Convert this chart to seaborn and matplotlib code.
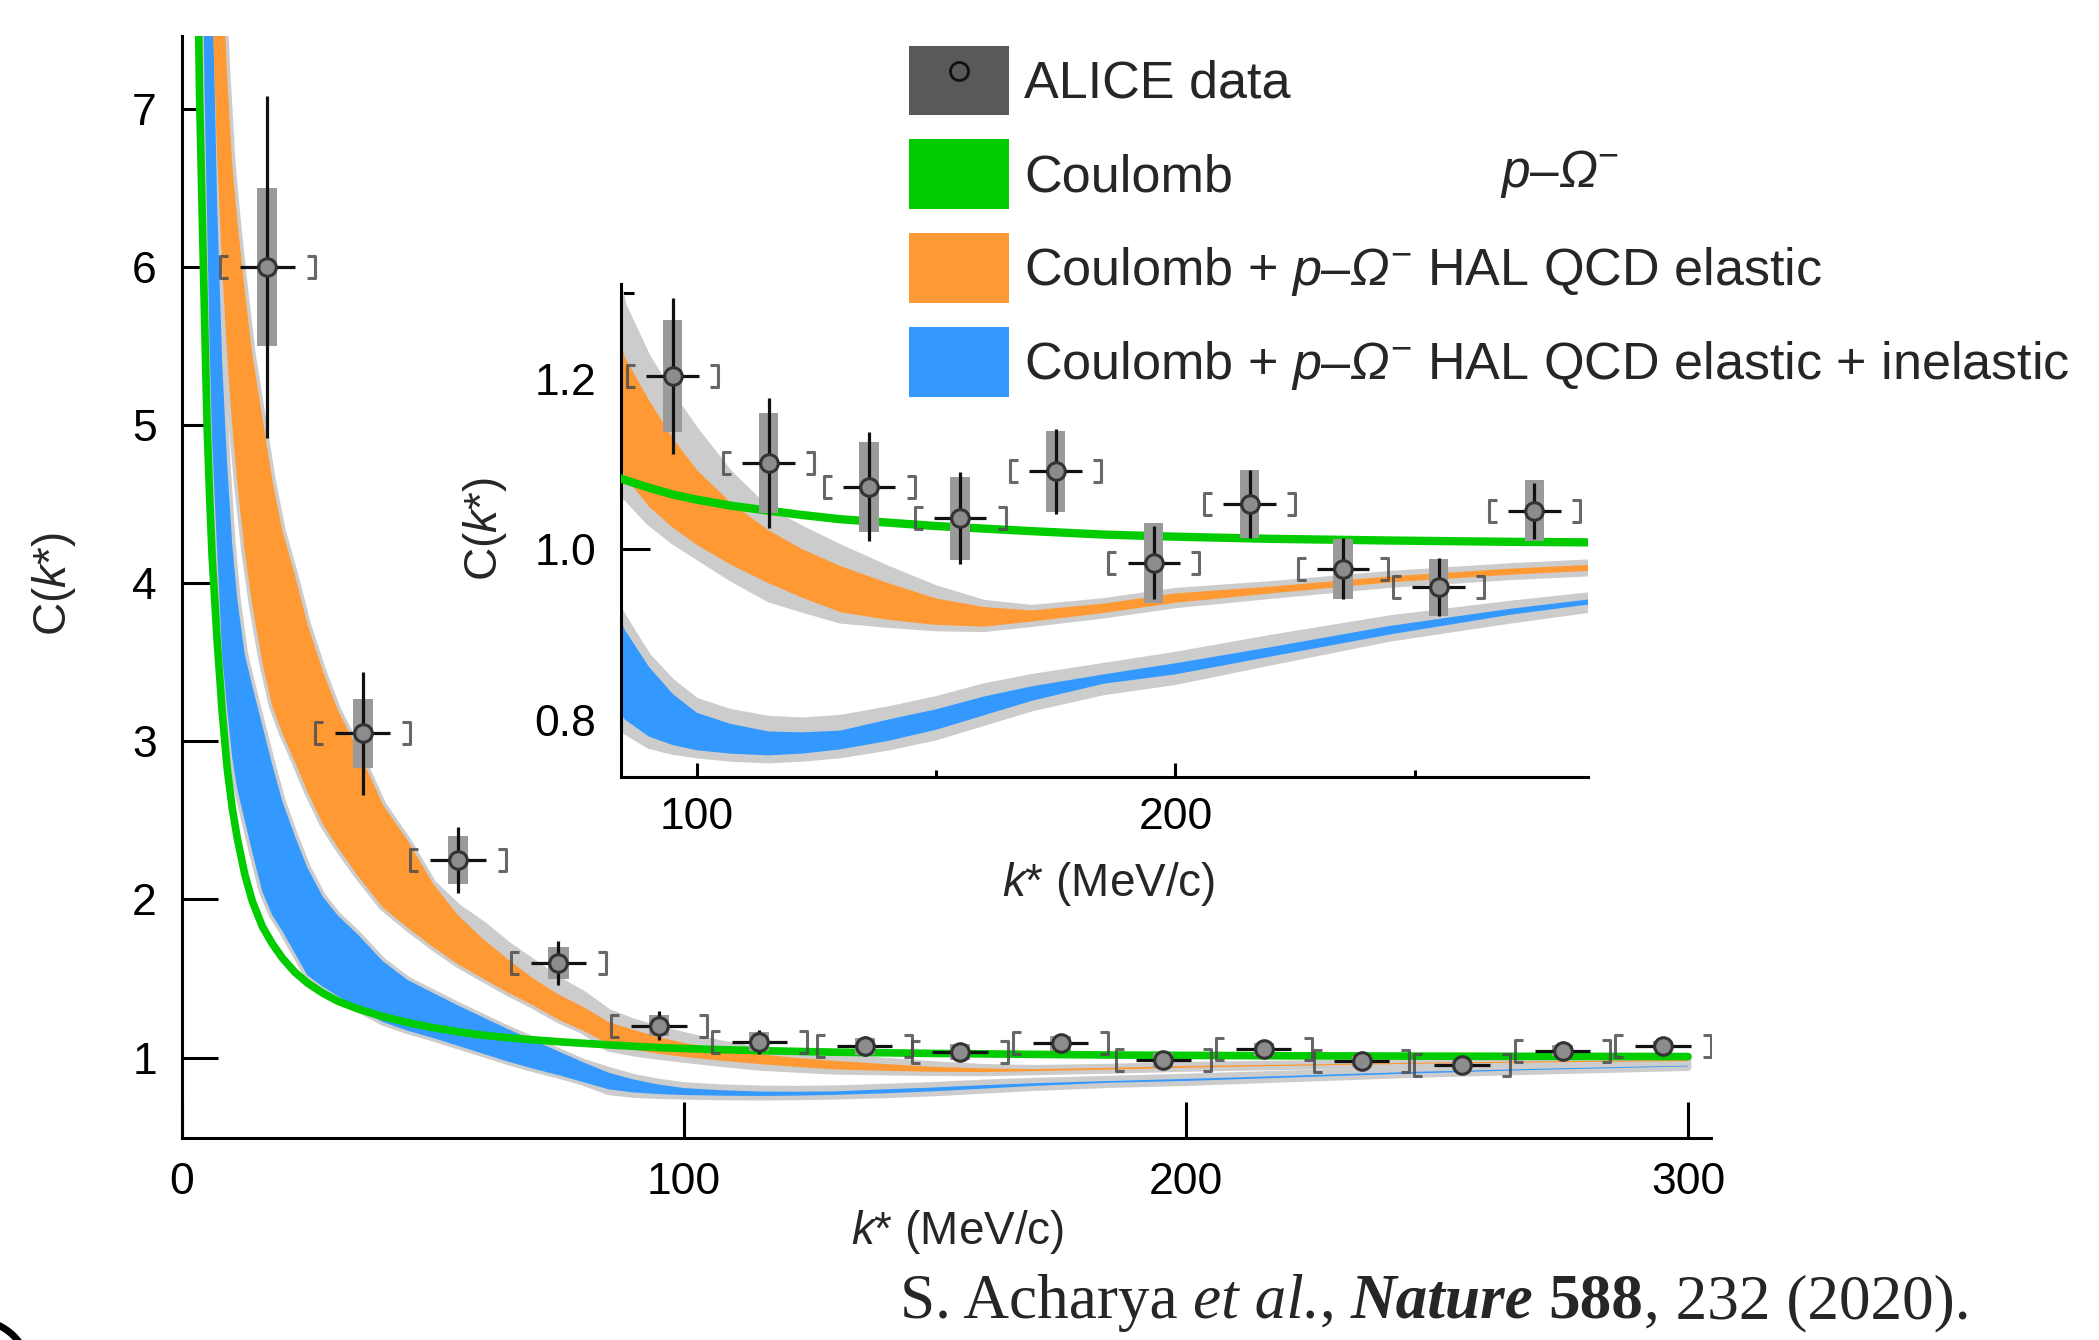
import numpy as np
import matplotlib
matplotlib.use('Agg')
import matplotlib.pyplot as plt
import seaborn as sns
from matplotlib.path import Path
from matplotlib.patches import Patch, Arc
from matplotlib.lines import Line2D
from matplotlib.ticker import FormatStrFormatter

k_model = [2.5, 3, 3.5, 4, 4.5, 5, 5.5, 6, 7, 8, 9, 10, 11, 12.5, 14, 16, 18, 20, 22.5, 25,
           28, 31, 35, 40, 45, 50, 55, 60, 65, 70, 75, 80, 85, 90, 95, 100, 107, 115, 122, 130,
           140, 150, 160, 170, 185, 200, 220, 245, 270, 300]

coulomb = [9.8, 8.17, 7.09, 6.37, 5.67, 5.0, 4.55, 4.17, 3.64, 3.19, 2.83, 2.58, 2.39, 2.16, 1.99,
           1.83, 1.72, 1.63, 1.54, 1.472, 1.409, 1.358, 1.309, 1.26, 1.222, 1.19, 1.164, 1.142,
           1.126, 1.113, 1.101, 1.091, 1.081, 1.072, 1.064, 1.058, 1.051, 1.045, 1.040, 1.035,
           1.031, 1.027, 1.024, 1.021, 1.017, 1.0145, 1.012, 1.010, 1.0085, 1.0073]

# Coulomb + HAL QCD elastic (orange band)
el_lo = [17, 14.3, 12.4, 11, 9.9, 9.0, 8.3, 7.67, 6.71, 6.0, 5.44, 5.0, 4.64, 4.2, 3.86, 3.5, 3.22,
         3.05, 2.87, 2.68, 2.48, 2.33, 2.15, 1.95, 1.82, 1.70, 1.59, 1.50, 1.41, 1.33, 1.24, 1.17,
         1.085, 1.05, 1.025, 1.005, 0.982, 0.96, 0.943, 0.926, 0.917, 0.911, 0.909, 0.915, 0.925,
         0.937, 0.948, 0.961, 0.970, 0.978]
el_hi = [22, 18.5, 16, 14.2, 12.7, 11.6, 10.8, 10.0, 8.8, 7.9, 7.2, 6.65, 6.3, 5.85, 5.45, 5.05,
         4.65, 4.33, 4.05, 3.74, 3.45, 3.2, 2.95, 2.6, 2.37, 2.1, 1.9, 1.75, 1.62, 1.5, 1.4, 1.32,
         1.225, 1.175, 1.13, 1.093, 1.055, 1.022, 1.0, 0.98, 0.96, 0.942, 0.932, 0.928, 0.936,
         0.948, 0.956, 0.968, 0.977, 0.985]
el_gray_lo = el_lo[:32] + [1.06, 1.03, 1.008, 0.99, 0.965, 0.94, 0.928, 0.915, 0.91, 0.906, 0.905,
                           0.911, 0.921, 0.933, 0.944, 0.957, 0.966, 0.974]
el_gray_hi = el_hi[:26] + [1.95, 1.84, 1.71, 1.60, 1.49, 1.40, 1.285, 1.225, 1.18, 1.14, 1.09,
                           1.046, 1.025, 1.003, 0.978, 0.955, 0.938, 0.932, 0.94, 0.952, 0.96,
                           0.972, 0.981, 0.989]

# Coulomb + HAL QCD elastic + inelastic (blue band)
inel_lo = [14, 11, 9.5, 8.2, 7.1, 6.3, 5.5, 4.9, 4.2, 3.55, 3.2, 2.9, 2.7, 2.5, 2.3, 2.05, 1.9, 1.8,
           1.66, 1.52, 1.45, 1.39, 1.31, 1.225, 1.17, 1.125, 1.075, 1.025, 0.975, 0.93, 0.89, 0.845,
           0.80, 0.78, 0.77, 0.764, 0.760, 0.758, 0.760, 0.765, 0.775, 0.788, 0.805, 0.822,
           0.842, 0.853, 0.874, 0.90, 0.923, 0.945]
inel_hi = [20, 15, 13, 11.5, 10.3, 9.4, 8.6, 7.9, 6.4, 5.4, 4.75, 4.25, 3.9, 3.55, 3.35, 3.1, 2.85,
           2.62, 2.4, 2.2, 2.02, 1.9, 1.78, 1.61, 1.49, 1.41, 1.33, 1.255, 1.18, 1.11, 1.04, 0.97,
           0.905, 0.862, 0.83, 0.808, 0.795, 0.786, 0.785, 0.787, 0.80, 0.812, 0.827, 0.839,
           0.853, 0.866, 0.885, 0.91, 0.93, 0.95]
inel_gray_lo = inel_lo[:32] + [0.785, 0.768, 0.761, 0.757, 0.753, 0.751, 0.753, 0.757, 0.766, 0.778,
                               0.795, 0.812, 0.831, 0.843, 0.866, 0.894, 0.915, 0.938]
inel_gray_hi = inel_hi[:32] + [0.92, 0.875, 0.845, 0.823, 0.81, 0.802, 0.80, 0.803, 0.813, 0.825,
                               0.84, 0.851, 0.864, 0.877, 0.897, 0.92, 0.937, 0.955]

# ALICE p-Omega data
k_data = [17, 36, 55, 75, 95, 115, 136, 155, 175, 195.5, 215.5, 235, 255, 275, 295]
C_data = [6.0, 3.05, 2.25, 1.60, 1.203, 1.101, 1.073, 1.036, 1.091, 0.984, 1.053, 0.977, 0.955,
          1.045, 1.077]
stat_err = [1.08, 0.39, 0.21, 0.14, 0.092, 0.076, 0.064, 0.054, 0.05, 0.043, 0.04, 0.036, 0.034,
            0.033, 0.03]
syst_err = [0.5, 0.22, 0.15, 0.10, 0.066, 0.059, 0.053, 0.049, 0.047, 0.047, 0.04, 0.035, 0.033,
            0.036, 0.03]

OMEGA = '$p$–$\\mathsf{Ω}^{-}$'
legend_labels = ['ALICE data', 'Coulomb',
                 'Coulomb + ' + OMEGA + ' HAL QCD elastic',
                 'Coulomb + ' + OMEGA + ' HAL QCD elastic + inelastic']

GREEN = '#00cc00'
ORANGE = '#ff9933'
BLUE = '#3399ff'
BAND_GRAY = '#cccccc'

sns.set_theme(style='ticks')
plt.rcParams['font.family'] = ['Liberation Sans', 'DejaVu Sans']
plt.rcParams['mathtext.fontset'] = 'custom'
plt.rcParams['mathtext.rm'] = 'Liberation Sans'
plt.rcParams['mathtext.it'] = 'Liberation Sans:italic'
plt.rcParams['mathtext.sf'] = 'Liberation Sans:italic'   # used for the slanted capital Omega
plt.rcParams['mathtext.bf'] = 'Liberation Sans:bold'
plt.rcParams['axes.linewidth'] = 2.2
plt.rcParams['axes.edgecolor'] = 'black'

fig = plt.figure(figsize=(20.99, 13.40), dpi=100)
ax = fig.add_axes([0.0867, 0.1507, 0.7285, 0.8224])
ax_in = fig.add_axes([0.2959, 0.4204, 0.4607, 0.3677])

LBR = Path([(0.7, 1), (0, 1), (0, -1), (0.7, -1)],
           [Path.MOVETO, Path.LINETO, Path.LINETO, Path.LINETO])
RBR = Path([(-0.7, 1), (0, 1), (0, -1), (-0.7, -1)],
           [Path.MOVETO, Path.LINETO, Path.LINETO, Path.LINETO])


def draw_models(a, rim, lw_green):
    bands = [(inel_lo, inel_hi, inel_gray_lo, inel_gray_hi, BLUE),
             (el_lo, el_hi, el_gray_lo, el_gray_hi, ORANGE)]
    for lo, hi, glo, ghi, col in bands:
        a.fill_between(k_model, glo, ghi, color=BAND_GRAY, lw=0, zorder=1)
        a.plot(k_model, glo, color=BAND_GRAY, lw=rim, zorder=1)
        a.plot(k_model, ghi, color=BAND_GRAY, lw=rim, zorder=1)
        a.fill_between(k_model, lo, hi, color=col, lw=0, zorder=2)
    sns.lineplot(x=k_model, y=coulomb, color=GREEN, linewidth=lw_green, ax=a, zorder=3)


def draw_data(a, first, last):
    k = np.array(k_data[first:last])
    c = np.array(C_data[first:last])
    st = np.array(stat_err[first:last])
    sy = np.array(syst_err[first:last])
    a.bar(k, 2 * sy, bottom=c - sy, width=4, color='#9a9a9a', lw=0, zorder=5)
    a.errorbar(k, c, yerr=st, xerr=5.5, fmt='none', ecolor='#111111', elinewidth=2.3,
               capsize=0, zorder=6)
    a.plot(k - 9.5, c, ls='none', marker=LBR, ms=16, mfc='none', mec='#4d4d4d', mew=2.2,
           alpha=0.85, zorder=6)
    a.plot(k + 9.5, c, ls='none', marker=RBR, ms=16, mfc='none', mec='#4d4d4d', mew=2.2,
           alpha=0.85, zorder=6)
    sns.scatterplot(x=k, y=c, s=160, color='#8c8c8c', edgecolor='#333333', linewidth=2.2,
                    ax=a, zorder=8)


# main panel
draw_models(ax, 5, 5.5)
draw_data(ax, 0, 15)
ax.set_xlim(0, 304.6)
ax.set_ylim(0.492, 7.458)
ax.set_xticks([0, 100, 200, 300])
ax.set_yticks([1, 2, 3, 4, 5, 6, 7])
ax.tick_params(direction='in', length=26, width=2.2, labelsize=32, pad=18, colors='black')
ax.tick_params(axis='x', pad=17)
ax.set_xlabel('$k$* (MeV/c)', fontsize=33, va='center')
ax.set_ylabel('C($k$*)', fontsize=33, va='center')
ax.xaxis.set_label_coords(0.507, -0.085)
ax.yaxis.set_label_coords(-0.084, 0.503)
sns.despine(ax=ax)

# inset
draw_models(ax_in, 3, 6)
draw_data(ax_in, 4, 14)
ax_in.set_facecolor('none')
ax_in.set_xlim(84.2, 286.2)
ax_in.set_ylim(0.733, 1.311)
ax_in.set_xticks([100, 200])
ax_in.set_xticks([150, 250], minor=True)
ax_in.set_yticks([0.8, 1.0, 1.2])
ax_in.set_yticks([0.9, 1.1, 1.3], minor=True)
ax_in.yaxis.set_major_formatter(FormatStrFormatter('%.1f'))
ax_in.tick_params(which='both', direction='in', width=2.2, labelsize=32, colors='black')
ax_in.tick_params(axis='x', which='major', length=10, pad=15)
ax_in.tick_params(axis='x', which='minor', length=5)
ax_in.tick_params(axis='y', which='major', length=21, pad=18)
ax_in.tick_params(axis='y', which='minor', length=9.5)
ax_in.set_xlabel('$k$* (MeV/c)', fontsize=33, va='center')
ax_in.set_ylabel('C($k$*)', fontsize=33, va='center')
ax_in.xaxis.set_label_coords(0.504, -0.217)
ax_in.yaxis.set_label_coords(-0.141, 0.503)
sns.despine(ax=ax_in)

# legend
handles = [(Patch(facecolor='#595959', edgecolor='none'),
            Line2D([], [], ls='none', marker='o', ms=13, mfc='none', mec='#111111', mew=2)),
           Patch(facecolor=GREEN, edgecolor='none'),
           Patch(facecolor=ORANGE, edgecolor='none'),
           Patch(facecolor=BLUE, edgecolor='none')]
fig.legend(handles, legend_labels, loc='upper left', bbox_to_anchor=(0.433, 0.966),
           frameon=False, fontsize=37.5, handlelength=1.92, handleheight=1.674,
           labelspacing=0.47, handletextpad=0.3, borderpad=0, borderaxespad=0)
fig.text(1500 / 2099, 1 - 174 / 1340, OMEGA, fontsize=37, va='center')

# reference line under the plot
base_y = 1 - 1318 / 1340
prev = fig.text(900 / 2099, base_y, 'S. Acharya', fontsize=45.5, family='Liberation Serif',
                va='baseline')
pieces = [('et al.', 'italic', 'normal', 11), (',', 'normal', 'normal', 0),
          ('Nature', 'italic', 'bold', 11), ('588', 'normal', 'bold', 11),
          (', 232 (2020).', 'normal', 'normal', 0)]
for s, style, weight, gap in pieces:
    prev = ax.annotate(s, xy=(1, base_y), xycoords=(prev, 'figure fraction'),
                       xytext=(gap, 0), textcoords='offset points', va='baseline', ha='left',
                       fontsize=45.5, family='Liberation Serif', fontstyle=style,
                       fontweight=weight, annotation_clip=False)

# slide-border remnant in the lower-left corner
fig.add_artist(Arc((-0.25, -0.35), 1.1, 1.1, theta1=0, theta2=90, lw=5, color='black',
                   transform=fig.dpi_scale_trans))

fig.savefig('out.png', dpi=100)
